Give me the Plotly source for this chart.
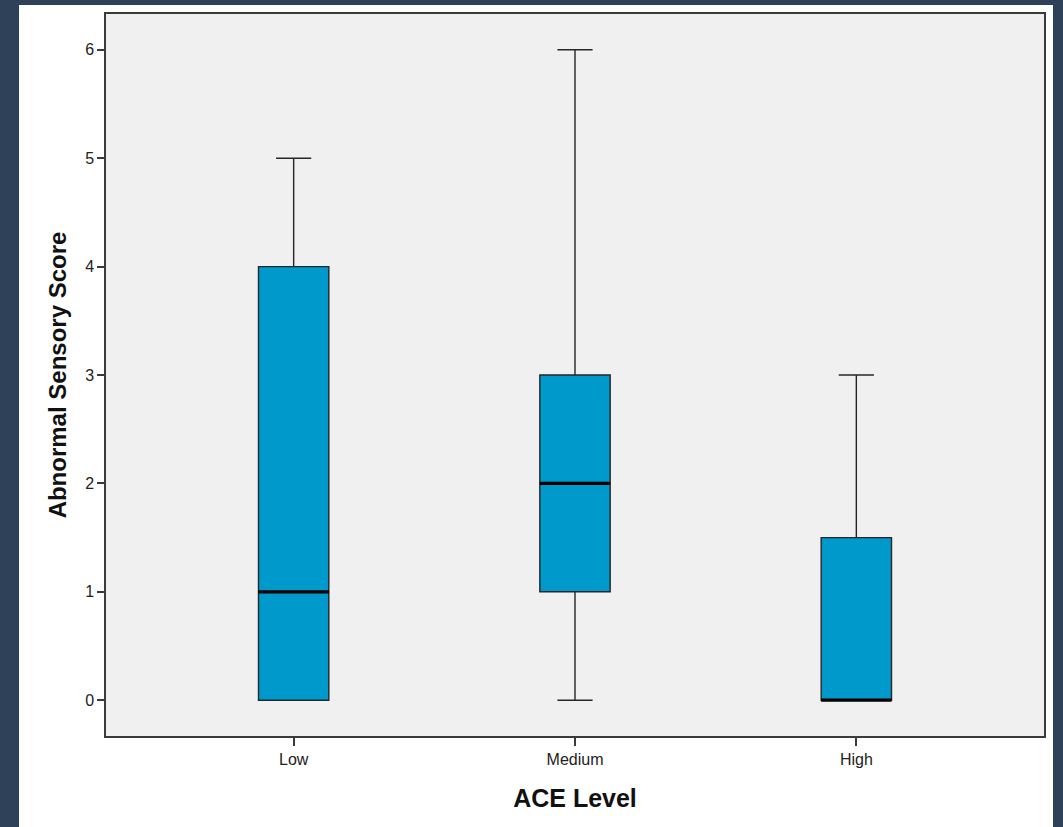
import plotly.graph_objects as go

categories = ["Low", "Medium", "High"]
mins = [0, 0, 0]
q1s = [0, 1, 0]
medians = [1, 2, 0]
q3s = [4, 3, 1.5]
maxs = [5, 6, 3]

box_w = 0.25
positions = list(range(len(categories)))

fig = go.Figure()
for i, cat in enumerate(categories):
    fig.add_trace(go.Box(
        x=[positions[i]], q1=[q1s[i]], median=[medians[i]], q3=[q3s[i]],
        lowerfence=[mins[i]], upperfence=[maxs[i]], name=cat,
        width=box_w, whiskerwidth=0.5,
        fillcolor="#0099cc", line=dict(color="#262626", width=1.4),
        boxpoints=False, showlegend=False, hoverinfo="skip",
    ))
    fig.add_trace(go.Scatter(
        x=[positions[i] - box_w / 2, positions[i] + box_w / 2],
        y=[medians[i], medians[i]], mode="lines",
        line=dict(color="#000000", width=3.2), showlegend=False, hoverinfo="skip",
    ))

L, R, T, B = 106, 19, 14, 91
W, H = 1063, 827
pw, ph = W - L - R, H - T - B

fig.update_layout(
    width=W, height=H,
    margin=dict(l=L, r=R, t=T, b=B),
    paper_bgcolor="#2f4159",
    plot_bgcolor="#f0f0f0",
    font=dict(family="Liberation Sans, Arial, sans-serif", color="#222222"),
    shapes=[
        dict(type="rect", xref="paper", yref="paper", layer="below",
             x0=(19 - L) / pw, x1=(1053 - L) / pw,
             y0=-0.3, y1=(H - B - 5) / ph,
             fillcolor="#ffffff", line=dict(width=0)),
        dict(type="rect", xref="paper", yref="paper", layer="below",
             x0=0, x1=1, y0=0, y1=1,
             fillcolor="#f0f0f0", line=dict(width=0)),
    ],
    xaxis=dict(
        range=[-0.667, 2.667], tickvals=positions, ticktext=categories,
        showgrid=False, zeroline=False,
        showline=True, mirror=True, linecolor="#3a3a3a", linewidth=1.5,
        ticks="outside", ticklen=8, tickcolor="#3a3a3a", tickwidth=1.5,
        tickfont=dict(size=16, color="#222222"),
        title=dict(text="<b>ACE Level</b>", font=dict(size=25, color="#111111"), standoff=23),
    ),
    yaxis=dict(
        range=[-0.33, 6.33], tickvals=[0, 1, 2, 3, 4, 5, 6],
        showgrid=False, zeroline=False,
        showline=True, mirror=True, linecolor="#3a3a3a", linewidth=1.5,
        ticks="outside", ticklen=7, tickcolor="#3a3a3a", tickwidth=1.5,
        tickfont=dict(size=16, color="#222222"),
        title=dict(text="<b>Abnormal Sensory Score</b>", font=dict(size=24, color="#111111"), standoff=12),
    ),
)

fig.write_html(
    "out.html",
    config={"displayModeBar": False},
    post_script="document.body.style.margin='0';document.body.style.background='#2f4159';",
)
